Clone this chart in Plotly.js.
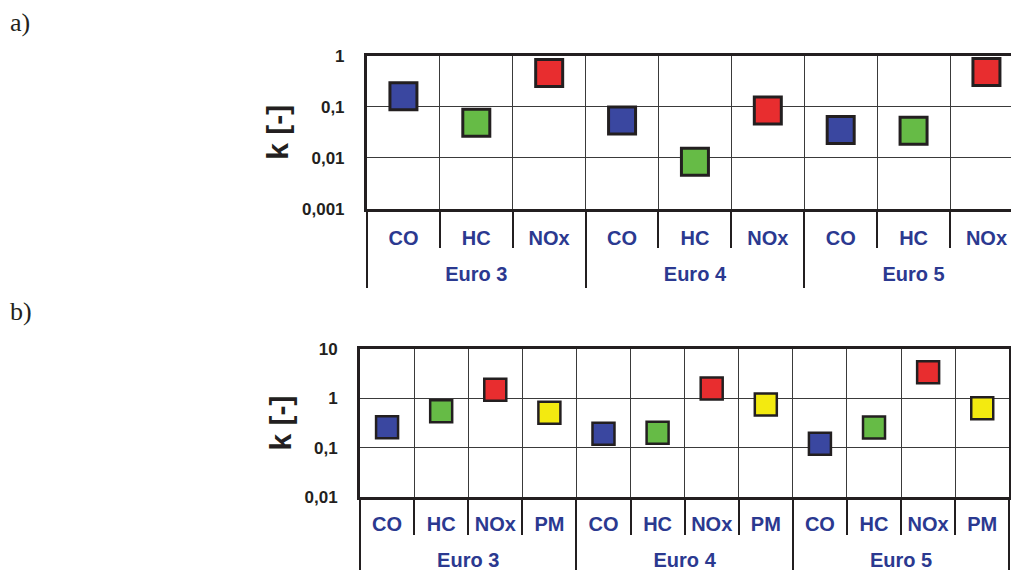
<!DOCTYPE html>
<html>
<head>
<meta charset="utf-8">
<script src="https://cdn.plot.ly/plotly-3.0.1.min.js"></script>
<style>
  html, body { margin: 0; padding: 0; background: #fff; overflow: hidden; }
  #chart { width: 1011px; height: 570px; }
</style>
</head>
<body>
<div id="chart"></div>
<script>
// ---- data ----
const groups = ["Euro 3", "Euro 4", "Euro 5"];
const pollutantsA = ["CO", "HC", "NOx"];
const pollutantsB = ["CO", "HC", "NOx", "PM"];
// panel a) k values, ordered Euro 3 (CO, HC, NOx), Euro 4 (...), Euro 5 (...)
const kA = [0.16, 0.049, 0.46, 0.054, 0.0084, 0.085, 0.035, 0.034, 0.48];
// panel b) k values, ordered Euro 3 (CO, HC, NOx, PM), Euro 4 (...), Euro 5 (...)
const kB = [0.26, 0.55, 1.5, 0.51, 0.19, 0.20, 1.6, 0.75, 0.12, 0.255, 3.4, 0.63];
const yTicksA = [0.001, 0.01, 0.1, 1];
const yTickTextA = ["0,001", "0,01", "0,1", "1"];
const yTicksB = [0.01, 0.1, 1, 10];
const yTickTextB = ["0,01", "0,1", "1", "10"];
const pollutantColors = { CO: "#3a47a0", HC: "#66bb46", NOx: "#e82d2f", PM: "#f3ea10" };

// ---- styling constants ----
const INK = "#231f20";
const BLUE = "#2b3990";
const SANS = "Liberation Sans, Arial, sans-serif";

function buildPanel(pollutants, values) {
  const x = [], cats = [], cols = [];
  groups.forEach((g, gi) => pollutants.forEach((p, pi) => {
    const idx = gi * pollutants.length + pi;
    x.push(idx); cats.push(p); cols.push(pollutantColors[p]);
  }));
  const n = x.length, per = pollutants.length;
  const bounds = [];
  for (let i = 0; i <= n; i++) bounds.push(i - 0.5);
  const groupBounds = groups.map((g, gi) => gi * per - 0.5).concat([n - 0.5]);
  const groupCenters = groups.map((g, gi) => gi * per + (per - 1) / 2);
  return { x, y: values, cats, cols, bounds, groupBounds, groupCenters, n };
}

const A = buildPanel(pollutantsA, kA);
const B = buildPanel(pollutantsB, kB);

// invisible helper traces so overlay axes (grid/separators/group labels) get drawn
function helper(P, xaxis, yaxis) {
  return { type: "scatter", mode: "none", x: P.x, y: P.y, xaxis, yaxis, hoverinfo: "skip", showlegend: false };
}

const traces = [
  helper(A, "x2", "y"), helper(A, "x3", "y"), helper(A, "x4", "y"),
  helper(B, "x6", "y2"), helper(B, "x7", "y2"), helper(B, "x8", "y2"),
  {
    type: "scatter", mode: "markers", x: A.x, y: A.y, xaxis: "x", yaxis: "y",
    marker: { symbol: "square", size: 27, color: A.cols, line: { color: INK, width: 3 } },
    hovertext: A.cats, showlegend: false
  },
  {
    type: "scatter", mode: "markers", x: B.x, y: B.y, xaxis: "x5", yaxis: "y2",
    marker: { symbol: "square", size: 22, color: B.cols, line: { color: INK, width: 2.5 } },
    hovertext: B.cats, showlegend: false
  }
];

function xAxes(P, domain, range, yref, mainId, labelStandoff, groupStandoff, tickLen, divLen) {
  return [
    { // category labels + frame lines
      domain, range, anchor: yref, type: "linear",
      tickmode: "array", tickvals: P.x, ticktext: P.cats, ticks: "",
      tickfont: { family: SANS, size: 20, color: BLUE, weight: "bold" },
      ticklabelstandoff: labelStandoff,
      showgrid: false, zeroline: false,
      showline: true, linecolor: INK, linewidth: 3, mirror: true
    },
    { // boundaries: gridlines + short separators
      overlaying: mainId, anchor: yref, range, type: "linear",
      tickmode: "array", tickvals: P.bounds, showticklabels: false,
      ticks: "outside", ticklen: tickLen, tickwidth: 2, tickcolor: INK,
      showgrid: true, gridcolor: "#3a3a3a", gridwidth: 1, zeroline: false, showline: false
    },
    { // group dividers
      overlaying: mainId, anchor: yref, range, type: "linear",
      tickmode: "array", tickvals: P.groupBounds, showticklabels: false,
      ticks: "outside", ticklen: divLen, tickwidth: 2, tickcolor: INK,
      showgrid: false, zeroline: false, showline: false
    },
    { // group labels
      overlaying: mainId, anchor: yref, range, type: "linear",
      tickmode: "array", tickvals: P.groupCenters, ticktext: groups, ticks: "",
      tickfont: { family: SANS, size: 20, color: BLUE, weight: "bold" },
      ticklabelstandoff: groupStandoff,
      showgrid: false, zeroline: false, showline: false
    }
  ];
}

const xa = xAxes(A, [0.363, 1], [-0.5, 8.337], "y", "x", 9, 51, 38, 78);
const xb = xAxes(B, [0.3561, 0.9983], [-0.5, 11.5], "y2", "x5", 7, 49, 37, 80);

function yAxis(domain, range, tickvals, ticktext, anchor, mirror) {
  return {
    domain, range, type: "log", anchor,
    tickmode: "array", tickvals, ticktext, ticks: "",
    tickfont: { family: SANS, size: 17, color: INK, weight: "bold" },
    ticklabelstandoff: 16,
    showgrid: true, gridcolor: "#3a3a3a", gridwidth: 1,
    showline: true, linecolor: INK, linewidth: 3, mirror,
    title: { text: "k [-]", font: { family: SANS, size: 30, color: INK, weight: "bold" }, standoff: 5 }
  };
}

const layout = {
  width: 1011, height: 570,
  margin: { l: 0, r: 0, t: 0, b: 0 },
  paper_bgcolor: "#fff", plot_bgcolor: "#fff",
  showlegend: false,
  xaxis: xa[0], xaxis2: xa[1], xaxis3: xa[2], xaxis4: xa[3],
  xaxis5: xb[0], xaxis6: xb[1], xaxis7: xb[2], xaxis8: xb[3],
  yaxis: yAxis([0.6333, 0.9023], [-3, 0], yTicksA, yTickTextA, "x", false),
  yaxis2: yAxis([0.1286, 0.3872], [-2, 1], yTicksB, yTickTextB, "x5", true),
  annotations: [
    { text: "a)", xref: "paper", yref: "paper", x: 8 / 1011, y: 1 - 22 / 570, xanchor: "left", yanchor: "middle",
      showarrow: false, font: { family: "Liberation Serif, Times New Roman, serif", size: 26, color: INK } },
    { text: "b)", xref: "paper", yref: "paper", x: 8 / 1011, y: 1 - 311 / 570, xanchor: "left", yanchor: "middle",
      showarrow: false, font: { family: "Liberation Serif, Times New Roman, serif", size: 26, color: INK } }
  ]
};

Plotly.newPlot("chart", traces, layout, { displayModeBar: false, staticPlot: true });
</script>
</body>
</html>
